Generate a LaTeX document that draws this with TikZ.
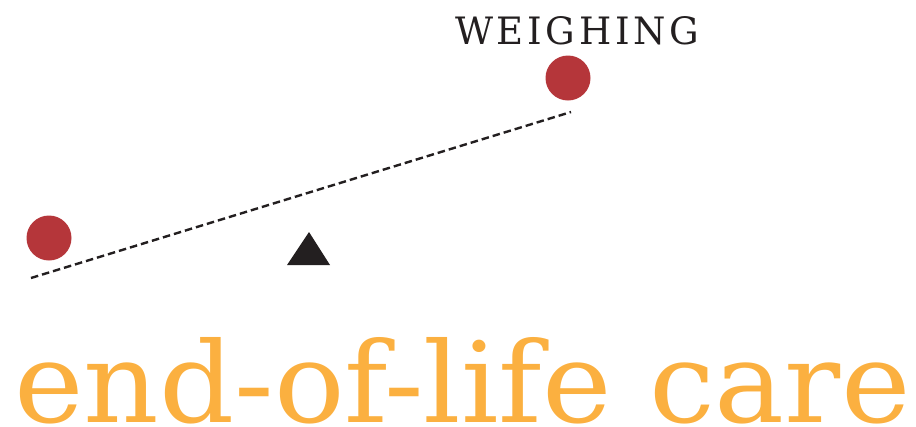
\documentclass[tikz,border=0pt]{standalone}
\usepackage{fontspec}
\setmainfont{DejaVu Serif}
\newfontfamily\slabspaced[LetterSpace=10]{DejaVu Serif}
\definecolor{ballred}{HTML}{B5363A}
\definecolor{inkblack}{HTML}{231F20}
\definecolor{careorange}{HTML}{FBB040}
\begin{document}
\begin{tikzpicture}[x=1pt,y=-1pt,
  ball/.style={circle,fill=ballred,inner sep=0pt,minimum size=45pt},
  beam/.style={draw=inkblack,line width=2.4pt,dash pattern=on 7.5pt off 4pt},
  fulcrum/.style={fill=inkblack}]
\useasboundingbox (0,0) rectangle (916,426);
\node[anchor=base west,inner sep=0pt,text=inkblack] (title) at (455,44)
  {\resizebox{244pt}{28pt}{\slabspaced WEIGHING}};
\node[ball] (bright) at (568,78) {};
\node[ball] (bleft) at (49,238) {};
\coordinate (beamL) at (31,278);
\coordinate (beamR) at (571,112);
\draw[beam] (beamL) -- (beamR);
\coordinate (apex) at (309,232);
\coordinate (baseL) at (287,265);
\coordinate (baseR) at (330,265);
\fill[fulcrum] (apex) -- (baseL) -- (baseR) -- cycle;
\node[anchor=base west,inner sep=0pt,text=careorange] (care) at (14,422)
  {\resizebox{896pt}{85pt}{end-of-life care}};
\end{tikzpicture}
\end{document}
